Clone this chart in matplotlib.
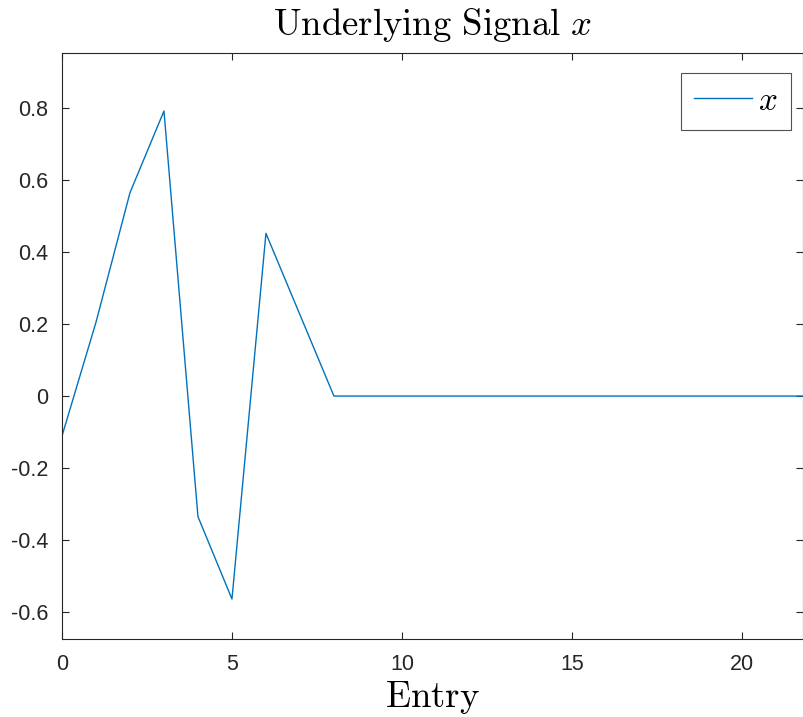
import matplotlib
matplotlib.use("Agg")
import matplotlib.pyplot as plt

# signal values, entries 0..22 (tail runs past the right edge)
entry = list(range(23))
signal = [-0.111, 0.205, 0.565, 0.792, -0.335, -0.564, 0.452, 0.226, 0.0,
          0.0, 0.0, 0.0, 0.0, 0.0, 0.0, 0.0, 0.0, 0.0, 0.0, 0.0, 0.0, 0.0, 0.0]

xticks = [0, 5, 10, 15, 20]
yticks = [-0.6, -0.4, -0.2, 0, 0.2, 0.4, 0.6, 0.8]
ytick_labels = ["-0.6", "-0.4", "-0.2", "0", "0.2", "0.4", "0.6", "0.8"]

plt.rcParams["mathtext.fontset"] = "cm"
plt.rcParams["font.family"] = ["Liberation Sans", "DejaVu Sans"]
plt.rcParams["axes.unicode_minus"] = False

fig = plt.figure(figsize=(8.04, 7.17), dpi=100)
ax = fig.add_axes([0.0771, 0.1088, 0.9217, 0.8172])

ax.plot(entry, signal, color="#0072BD", linewidth=1.0, label=r"$x$")

ax.set_xlim(0, 21.8)
ax.set_ylim(-0.675, 0.953)
ax.set_xticks(xticks)
ax.set_yticks(yticks)
ax.set_yticklabels(ytick_labels)

for s in ax.spines.values():
    s.set_color("#262626")
    s.set_linewidth(0.8)
ax.tick_params(direction="in", top=True, right=True, length=5, width=0.8,
               color="#262626", labelcolor="#262626", labelsize=15.5)
ax.tick_params(axis="x", pad=11)
ax.tick_params(axis="y", pad=10)

ax.set_title(r"$\mathrm{Underlying\ Signal}\ x$", fontsize=26.5, pad=13)
ax.set_xlabel(r"$\mathrm{Entry}$", fontsize=26.5, labelpad=3)

leg = ax.legend(loc="upper right", bbox_to_anchor=(0.9838, 0.898),
                bbox_transform=fig.transFigure, borderaxespad=0,
                fontsize=24, frameon=True, fancybox=False,
                handlelength=1.75, handletextpad=0.18, borderpad=0.39)
leg.get_frame().set_edgecolor("#262626")
leg.get_frame().set_linewidth(0.8)

fig.savefig("out.png", dpi=100)
plt.close(fig)
